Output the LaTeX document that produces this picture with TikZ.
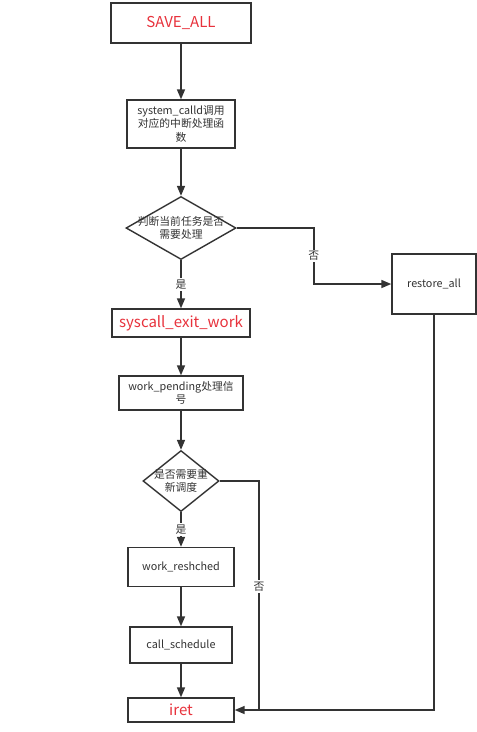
\documentclass[tikz,border=0pt]{standalone}
\usepackage{fontspec}
\setmainfont{Noto Sans CJK SC}
\usetikzlibrary{arrows.meta,positioning,shapes.geometric}
\definecolor{LineGray}{HTML}{333333}
\definecolor{KeyRed}{HTML}{E8323C}

\begin{document}
\begin{tikzpicture}[x=1pt,y=-1pt,
  box/.style={draw=LineGray,line width=1.4pt,fill=white,inner sep=0pt,align=center,
    font=\fontsize{10.8}{13.5}\selectfont,text=LineGray},
  keybox/.style={box,font=\fontsize{15}{18}\selectfont,text=KeyRed},
  decision/.style={draw=LineGray,line width=1.4pt,diamond,inner sep=0pt},
  inside/.style={align=center,font=\fontsize{10.8}{13.5}\selectfont,text=LineGray},
  link/.style={draw=LineGray,line width=1.6pt},
  flow/.style={link,-{Triangle[length=10pt,width=8pt]}},
  tag/.style={fill=white,inner sep=1.5pt,font=\fontsize{10.8}{12}\selectfont,text=LineGray}]
\useasboundingbox (0,0) rectangle (477,732);

% main column
\node[keybox,minimum width=140pt,minimum height=40pt] (save) at (181,23) {SAVE\_ALL};
\node[box,minimum width=108pt,minimum height=48pt] (callfn) at (181,124) {system\_calld调用\\对应的中断处理函\\数};
\node[decision,minimum width=110pt,minimum height=63pt,
  label={[inside]center:判断当前任务是否\\需要处理}] (chk) at (181,228) {};
\node[keybox,minimum width=138pt,minimum height=28pt] (exitwork) at (181,323) {syscall\_exit\_work};
\node[box,minimum width=124pt,minimum height=34pt] (pending) at (181,393) {work\_pending处理信\\号};
\node[decision,minimum width=76pt,minimum height=61pt,
  label={[inside]center:是否需要重\\新调度}] (chk2) at (181,481) {};
\node[box,minimum width=106pt,minimum height=39pt] (resched) at (181,567) {work\_reshched};
\node[box,minimum width=102pt,minimum height=36pt] (callsch) at (181,645) {call\_schedule};
\node[keybox,minimum width=106pt,minimum height=24pt] (iret) at (181,710) {iret};

% side branch
\node[box,minimum width=84pt,minimum height=60pt] (restore) at (434,284) {restore\_all};
\coordinate (merge) at (259,710);

\draw[flow] (save) -- (callfn);
\draw[flow] (callfn) -- (chk);
\draw[flow] (chk) -- node[tag]{是} (exitwork);
\draw[flow] (chk.east) -- ++(77,0) |- node[tag,pos=0.25]{否} (restore.west);
\draw[flow] (exitwork) -- (pending);
\draw[flow] (pending) -- (chk2);
\draw[flow] (chk2) -- node[tag]{是} (resched);
\draw[flow] (resched) -- (callsch);
\draw[flow] (callsch) -- (iret);
\draw[link] (chk2.east) -| node[tag,pos=0.73]{否} (merge);
\draw[flow] (restore) |- (iret.east);
\end{tikzpicture}
\end{document}
